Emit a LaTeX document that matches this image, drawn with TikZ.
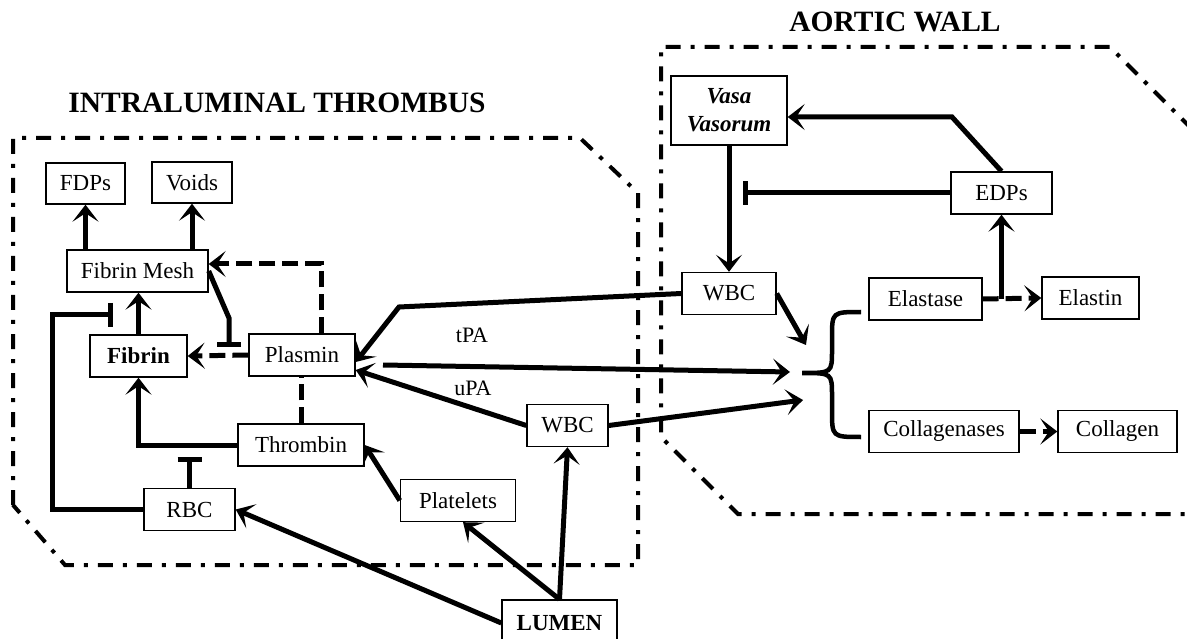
\documentclass[tikz,border=0pt]{standalone}
\usepackage{fontspec}
\setmainfont{Liberation Serif}
\usetikzlibrary{arrows.meta,calc}
\begin{document}
\begin{tikzpicture}[x=1pt,y=-1pt,
  box/.style={draw, line width=1.4pt, inner sep=0pt, minimum height=42pt,
    font=\fontsize{23}{26}\selectfont},
  lab/.style={inner sep=0pt, font=\fontsize{22}{24}\selectfont},
  title/.style={inner sep=0pt, font=\fontsize{29.5}{32}\selectfont\bfseries},
  conn/.style={line width=5pt},
  arr/.style={conn, -{Stealth[length=17pt,width=26pt,inset=8.5pt]}},
  darr/.style={arr, dash pattern=on 16pt off 7pt},
  dline/.style={conn, dash pattern=on 16pt off 7pt},
  inh/.style={conn, -{Bar[width=24pt,line width=5pt]}},
  region/.style={line width=4pt, dash pattern=on 15pt off 10pt on 4pt off 10pt}
]
\useasboundingbox (0,0) rectangle (1187,639);
\clip (0,0) rectangle (1187,639);
\fill[white] (0,0) rectangle (1187,639);

% regions
\draw[region] (13,505) -- (13,138) -- (580,138) -- (638,193) -- (638,565) -- (65,565) -- cycle;
\draw[region] (1220,157) -- (1110,47) -- (661,47) -- (661,437) -- (738,514) -- (1220,514);

% titles
\node[title] (t1) at (277,103) {INTRALUMINAL THROMBUS};
\node[title] (t2) at (895,22) {AORTIC WALL};

% nodes
\node[box, minimum width=79pt, minimum height=41pt] (fdps) at (85.5,183.5) {FDPs};
\node[box, minimum width=80pt, minimum height=41pt] (voids) at (192,182.5) {Voids};
\node[box, minimum width=141pt] (mesh) at (137.5,271) {Fibrin Mesh};
\node[box, minimum width=97pt, font=\fontsize{23}{26}\selectfont\bfseries] (fibrin) at (138.5,356) {Fibrin};
\node[box, minimum width=106pt] (plasmin) at (302,355) {Plasmin};
\node[box, minimum width=126pt] (thrombin) at (301,445) {Thrombin};
\node[box, minimum width=91pt] (rbc) at (189.5,509.5) {RBC};
\node[box, minimum width=115pt] (platelets) at (458,500.5) {Platelets};
\node[box, minimum width=81pt] (wbcB) at (567.5,425.5) {WBC};
\node[box, minimum width=115pt, minimum height=46pt, font=\fontsize{23}{26}\selectfont\bfseries] (lumen) at (559.5,623) {LUMEN};
\node[box, minimum width=116pt, minimum height=69pt, align=center,
  font=\fontsize{23}{28}\selectfont\bfseries\itshape] (vasa) at (729,110.5) {Vasa\\Vasorum};
\node[box, minimum width=101pt] (edps) at (1001.5,193) {EDPs};
\node[box, minimum width=94pt] (wbcA) at (729,293.5) {WBC};
\node[box, minimum width=113pt] (elastase) at (925.5,299) {Elastase};
\node[box, minimum width=97pt] (elastin) at (1090.5,298) {Elastin};
\node[box, minimum width=150pt] (collagenases) at (944,431.5) {Collagenases};
\node[box, minimum width=119pt] (collagen) at (1117.5,431.5) {Collagen};

\node[lab] (tpa) at (472,335) {tPA};
\node[lab] (upa) at (473,388) {uPA};

% brace
\draw[line width=4.5pt] (861,312) .. controls (832,312) .. (832,338) -- (832,350)
  .. controls (832,373) .. (802,373) .. controls (832,373) .. (832,396) -- (832,410)
  .. controls (832,437) .. (861,437);

% coordinates
\coordinate (pm1) at (321,264);
\coordinate (mi1) at (229,318);
\coordinate (mi2) at (229,347);
\coordinate (ri) at (189.5,457);
\coordinate (rl) at (52,315);
\coordinate (rb) at (113,315);
\coordinate (wk) at (399,307);
\coordinate (tpa0) at (383,365);
\coordinate (bA) at (790,372);
\coordinate (bB) at (803,400);
\coordinate (bC) at (806,345);
\coordinate (ek) at (952,117);
\coordinate (eb) at (743,193);
\coordinate (ej) at (1001.5,299);

% left connectors
\draw[arr] (mesh.north -| fdps.south) -- (fdps.south);
\draw[arr] (mesh.north -| voids.south) -- (voids.south);
\draw[arr] (fibrin.north) -- (fibrin.north |- mesh.south);
\draw[darr] (plasmin.west) -- (fibrin.east);
\draw[darr] (plasmin.north -| pm1) -- (pm1) -- (pm1 -| mesh.east);
\draw[inh] (mesh.east) -- (mi1) -- (mi2);
\draw[arr] (thrombin.west) -- (thrombin.west -| fibrin.south) -- (fibrin.south);
\draw[inh] (rbc.north) -- (ri);
\draw[inh] (rbc.west) -- (rbc.west -| rl) -- (rl) -- (rb);
\draw[dline] (thrombin.north) -- (thrombin.north |- plasmin.south);
\draw[arr] (wbcA.west) -- (wk) -- ($(plasmin.east)+(0,7)$);
\draw[arr] (tpa0) -- (bA);
\draw[arr] (wbcB.west) -- ($(plasmin.east)+(0,15)$);
\draw[arr] (wbcB.east) -- (bB);
\draw[arr] (wbcA.east) -- (bC);
\draw[arr] (lumen.west) -- (rbc.east);
\draw[arr] (lumen.north) -- ($(platelets.south)+(5,0)$);
\draw[arr] (lumen.north) -- (wbcB.south);
\draw[arr] (platelets.west) -- (thrombin.east);

% right connectors
\draw[arr] (vasa.south) -- (wbcA.north);
\draw[arr] (edps.north) -- (ek) -- (ek -| vasa.east);
\draw[inh] (edps.west) -- (eb);
\draw[darr] (elastase.east) -- (elastin.west);
\draw[arr] (ej) -- (edps.south);
\draw[darr] (collagenases.east) -- (collagen.west);
\end{tikzpicture}
\end{document}
